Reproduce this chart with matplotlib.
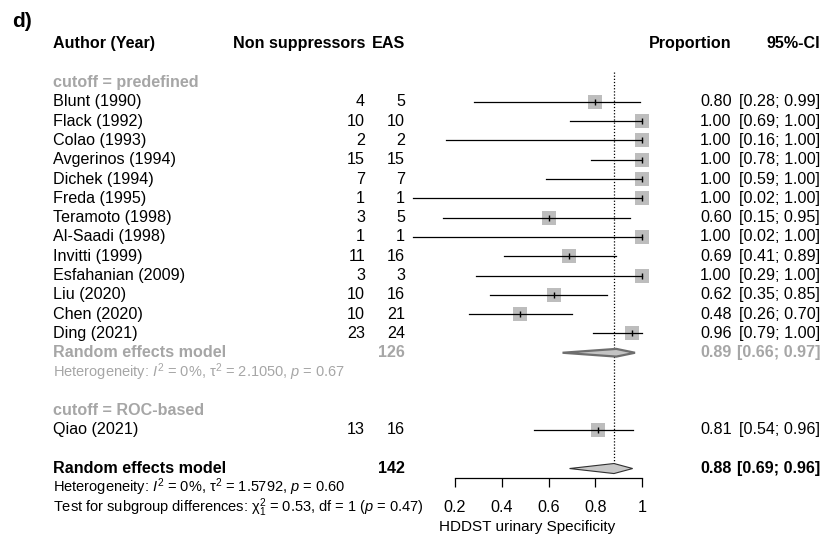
"""
Forest plot: HDDST urinary specificity by cutoff subgroup.
"""
import matplotlib
import matplotlib.pyplot as plt
from matplotlib.patches import Polygon
from matplotlib.transforms import blended_transform_factory

matplotlib.use("Agg")

plt.rcParams["font.family"] = ["Liberation Sans", "DejaVu Sans"]
plt.rcParams["mathtext.fontset"] = "custom"
plt.rcParams["mathtext.rm"] = "Liberation Sans"
plt.rcParams["mathtext.it"] = "Liberation Sans:italic"
plt.rcParams["mathtext.bf"] = "Liberation Sans:bold"

# study level data, subgroup "predefined"
authors = [
    "Blunt (1990)", "Flack (1992)", "Colao (1993)", "Avgerinos (1994)",
    "Dichek (1994)", "Freda (1995)", "Teramoto (1998)", "Al-Saadi (1998)",
    "Invitti (1999)", "Esfahanian (2009)", "Liu (2020)", "Chen (2020)",
    "Ding (2021)",
]
events = [4, 10, 2, 15, 7, 1, 3, 1, 11, 3, 10, 10, 23]
totals = [5, 10, 2, 15, 7, 1, 5, 1, 16, 3, 16, 21, 24]
ci_low = [0.28, 0.69, 0.16, 0.78, 0.59, 0.02, 0.15, 0.02, 0.41, 0.29, 0.35, 0.26, 0.79]
ci_high = [0.99, 1.00, 1.00, 1.00, 1.00, 1.00, 0.95, 1.00, 0.89, 1.00, 0.85, 0.70, 1.00]

# subgroup "ROC-based"
roc_authors = ["Qiao (2021)"]
roc_events = [13]
roc_totals = [16]
roc_low = [0.54]
roc_high = [0.96]

# pooled estimates: (estimate, low, high, n)
sub_pooled = (0.89, 0.66, 0.97, 126)
all_pooled = (0.88, 0.69, 0.96, 142)

het_sub = r"Heterogeneity: $\mathit{I}^2$ = 0%, $\mathrm{\tau}^2$ = 2.1050, $\mathit{p}$ = 0.67"
het_all = r"Heterogeneity: $\mathit{I}^2$ = 0%, $\mathrm{\tau}^2$ = 1.5792, $\mathit{p}$ = 0.60"
test_sub = r"Test for subgroup differences: $\mathrm{\chi}^2_1$ = 0.53, df = 1 ($\mathit{p}$ = 0.47)"

xticks = [0.2, 0.4, 0.6, 0.8, 1.0]
xtick_labels = ["0.2", "0.4", "0.6", "0.8", "1"]

GRAY_TXT = "#A6A6A6"
SQ_COL = "#BDBDBD"
FS = 11.6
FS_SMALL = 10.5

fig = plt.figure(figsize=(8.23, 5.38), dpi=100)
ax = fig.add_axes([0, 0, 1, 1])
ax.set_xlim(-1.7465, 1.7743)
ax.set_ylim(25.6, -2.28)
for s in ["top", "left", "right"]:
    ax.spines[s].set_visible(False)

tx = blended_transform_factory(ax.transAxes, ax.transData)
X_AUTH, X_EV, X_TOT, X_PROP, X_CI = 0.0644, 0.4435, 0.4921, 0.889, 0.9964


def txt(x, y, s, ha="left", color="black", weight="normal", size=FS):
    ax.text(x, y, s, transform=tx, ha=ha, va="center", color=color,
            fontweight=weight, fontsize=size)


def study_row(y, name, ev, tot, lo, hi):
    p = ev / tot
    txt(X_AUTH, y, name)
    txt(X_EV, y, str(ev), ha="right")
    txt(X_TOT, y, str(tot), ha="right")
    txt(X_PROP, y, f"{p:.2f}", ha="right")
    txt(X_CI, y, f"[{lo:.2f}; {hi:.2f}]", ha="right")
    ax.scatter([p], [y], marker="s", s=100, color=SQ_COL, zorder=2, linewidths=0)
    ax.plot([lo, hi], [y, y], color="black", lw=0.9, zorder=3)
    ax.plot([p], [y], marker="|", ms=5, mew=1, color="black", zorder=4)


def diamond(y, est, lo, hi, half, face, edge, lw):
    ax.add_patch(Polygon([(lo, y), (est, y - half), (hi, y), (est, y + half)],
                         closed=True, facecolor=face, edgecolor=edge, lw=lw,
                         zorder=3))


# title and header
ax.text(0.0146, -1.14, "d)", transform=tx, ha="left", va="center",
        fontsize=15, fontweight="bold")
txt(X_AUTH, 0, "Author (Year)", weight="bold")
txt(X_EV, 0, "Non suppressors", ha="right", weight="bold")
txt(X_TOT, 0, "EAS", ha="right", weight="bold")
txt(X_PROP, 0, "Proportion", ha="right", weight="bold")
txt(X_CI, 0, "95%-CI", ha="right", weight="bold")

# subgroup 1
txt(X_AUTH, 2, "cutoff = predefined", color=GRAY_TXT, weight="bold")
for i, name in enumerate(authors):
    study_row(3 + i, name, events[i], totals[i], ci_low[i], ci_high[i])
y_sub = 3 + len(authors)
est, lo, hi, n = sub_pooled
txt(X_AUTH, y_sub, "Random effects model", color=GRAY_TXT, weight="bold")
txt(X_TOT, y_sub, str(n), ha="right", color=GRAY_TXT, weight="bold")
txt(X_PROP, y_sub, f"{est:.2f}", ha="right", color=GRAY_TXT, weight="bold")
txt(X_CI, y_sub, f"[{lo:.2f}; {hi:.2f}]", ha="right", color=GRAY_TXT, weight="bold")
diamond(y_sub, est, lo, hi, 0.2, "#C4C4C4", "#6E6E6E", 1.6)
txt(X_AUTH, y_sub + 1, het_sub, color=GRAY_TXT, size=FS_SMALL)

# subgroup 2
y_roc = y_sub + 3
txt(X_AUTH, y_roc, "cutoff = ROC-based", color=GRAY_TXT, weight="bold")
for i, name in enumerate(roc_authors):
    study_row(y_roc + 1 + i, name, roc_events[i], roc_totals[i], roc_low[i], roc_high[i])

# overall
y_all = y_roc + 1 + len(roc_authors) + 1
est, lo, hi, n = all_pooled
txt(X_AUTH, y_all, "Random effects model", weight="bold")
txt(X_TOT, y_all, str(n), ha="right", weight="bold")
txt(X_PROP, y_all, f"{est:.2f}", ha="right", weight="bold")
txt(X_CI, y_all, f"[{lo:.2f}; {hi:.2f}]", ha="right", weight="bold")
diamond(y_all, est, lo, hi, 0.26, "#C8C8C8", "#303030", 0.8)
txt(X_AUTH, y_all + 0.97, het_all, size=FS_SMALL)
txt(X_AUTH, y_all + 2.05, test_sub, size=FS_SMALL)

# reference line at the overall estimate
ax.plot([est, est], [1.45, y_all - 0.2], color="black", lw=0.9,
        linestyle=(0, (1, 1.5)), zorder=1)

# x axis
ax.spines["bottom"].set_position(("data", y_all + 0.49))
ax.spines["bottom"].set_bounds(0.2, 1.0)
ax.spines["bottom"].set_linewidth(0.9)
ax.set_xticks(xticks)
ax.set_xticklabels(xtick_labels, fontsize=FS)
ax.tick_params(axis="x", direction="out", length=6.5, width=0.9, pad=9)
ax.set_yticks([])
ax.text(0.51, y_all + 3.03, "HDDST urinary Specificity", ha="center",
        va="center", fontsize=11)

fig.savefig("out.png", dpi=100)
plt.close(fig)
